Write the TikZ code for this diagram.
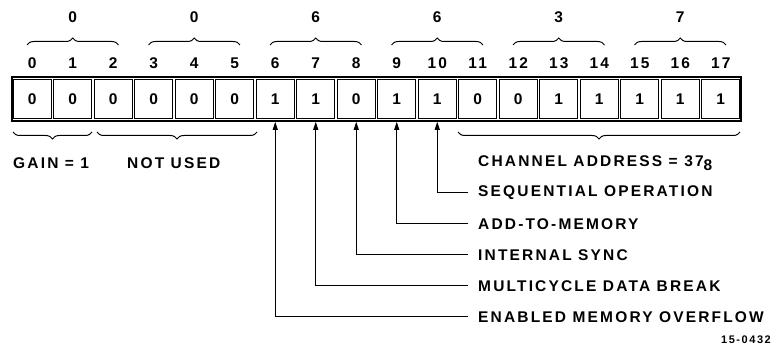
\documentclass[tikz,border=0pt]{standalone}
\usepackage{fontspec}
\setmainfont{Liberation Sans}
\newfontfamily\lbl{Liberation Sans}[LetterSpace=14]
\usetikzlibrary{decorations.pathreplacing,arrows.meta}
\begin{document}
\begin{tikzpicture}[x=1pt,y=-1pt,
  lab/.style={font=\lbl\bfseries\fontsize{15.5}{18}\selectfont, inner sep=0pt},
  small/.style={font=\lbl\bfseries\fontsize{11}{13}\selectfont, inner sep=0pt},
  cell/.style={draw, line width=1pt, minimum width=38pt, minimum height=39pt, inner sep=0pt,
    font=\lbl\bfseries\fontsize{15.5}{18}\selectfont},
  frame/.style={draw, line width=1.6pt, minimum width=729pt, minimum height=44pt, inner sep=0pt},
  bracetop/.style={decorate, decoration={brace, amplitude=7pt}, line width=1pt},
  arr/.style={line width=1pt, -{Triangle[length=8pt,width=5pt]}}
]
\useasboundingbox (0,0) rectangle (774,352);
% register frame
\node[frame] (reg) at (376.5,99) {};
\foreach \i/\v in {0/0,1/0,2/0,3/0,4/0,5/0,6/1,7/1,8/0,9/1,10/1,11/0,12/0,13/1,14/1,15/1,16/1,17/1} {
  \node[cell] (c\i) at ({12+40.5*\i+20.25},99) {\v};
  \node[lab] (b\i) at ({12+40.5*\i+20.25},63) {\i};
}
% group braces and octal digits
\foreach \g/\d in {0/0,1/0,2/6,3/6,4/3,5/7} {
  \draw[bracetop] ({12+121.5*\g+15},45) -- ({12+121.5*\g+106.5},45);
  \node[lab] (g\g) at ({12+121.5*\g+60.75},17) {\d};
}
% bottom braces
\draw[bracetop] (92,132) -- (13,132);
\draw[bracetop] (257,132) -- (97,132);
\draw[bracetop] (740,132) -- (458,132);
\node[lab, anchor=west] (gain) at (13,163) {GAIN = 1};
\node[lab, anchor=west] (nu) at (127,163) {NOT USED};
\node[lab, anchor=west] (ch) at (478,163) {CHANNEL ADDRESS = 37\raisebox{-3.5pt}{8}};
% function labels
\node[lab, anchor=west] (l10) at (478,193) {SEQUENTIAL OPERATION};
\node[lab, anchor=west] (l9) at (478,224) {ADD-TO-MEMORY};
\node[lab, anchor=west] (l8) at (478,255) {INTERNAL SYNC};
\node[lab, anchor=west] (l7) at (478,286) {MULTICYCLE DATA BREAK};
\node[lab, anchor=west] (l6) at (478,317) {ENABLED MEMORY OVERFLOW};
\foreach \k in {6,7,8,9,10} {
  \draw[arr] ([xshift=-10pt]l\k.west) -| (c\k |- reg.south);
}
\node[small, anchor=east] (fig) at (771,340) {15-0432};
\end{tikzpicture}
\end{document}
